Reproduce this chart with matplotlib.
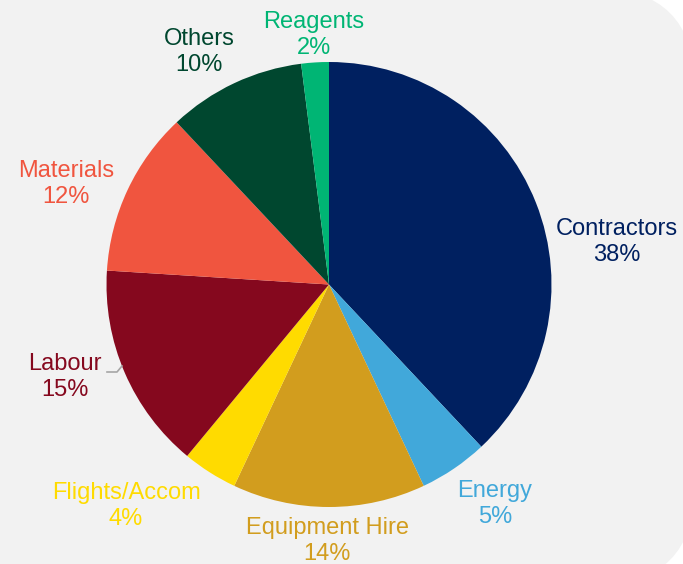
import matplotlib.pyplot as plt
from matplotlib.patches import FancyBboxPatch
from matplotlib.lines import Line2D

categories = ["Contractors", "Energy", "Equipment Hire", "Flights/Accom",
              "Labour", "Materials", "Others", "Reagents"]
shares = [38, 5, 14, 4, 15, 12, 10, 2]
colors = ["#002060", "#41A8DA", "#D29D1E", "#FFDB00",
          "#85081E", "#F0553F", "#00472F", "#00B574"]

# label centres in pixel space (y measured from the top)
label_pos = [(617, 242), (495, 504), (327, 541), (126, 506),
             (65, 377), (66, 184), (199, 52), (314, 35)]

W, H = 683, 564
plt.rcParams['font.family'] = ['Liberation Sans', 'DejaVu Sans']

fig = plt.figure(figsize=(W / 100, H / 100), dpi=100)
ax = fig.add_axes([0, 0, 1, 1])
ax.set_xlim(0, W)
ax.set_ylim(0, H)
ax.axis('off')

# grey panel with rounded corners on the right
panel = FancyBboxPatch((-60, H - 585), 695 + 60, 585 + 12,
                       boxstyle="round,pad=0,rounding_size=100",
                       facecolor="#F2F2F2", edgecolor="none", zorder=0)
ax.add_patch(panel)

ax.pie(shares, colors=colors, startangle=90, counterclock=False,
       center=(329, H - 284.5), radius=222.5,
       wedgeprops=dict(linewidth=0), frame=True)
ax.set_xlim(0, W)
ax.set_ylim(0, H)
ax.axis('off')

for name, val, col, (x, y) in zip(categories, shares, colors, label_pos):
    ax.text(x, H - y, f"{name}\n{val}%", color=col, fontsize=17,
            ha='center', va='center', linespacing=1.2)

# leader line for the Labour label
ax.add_line(Line2D([107, 117, 122], [H - 372, H - 372, H - 366],
                   color="#A6A6A6", linewidth=1.2))

fig.savefig("out.png", dpi=100)
